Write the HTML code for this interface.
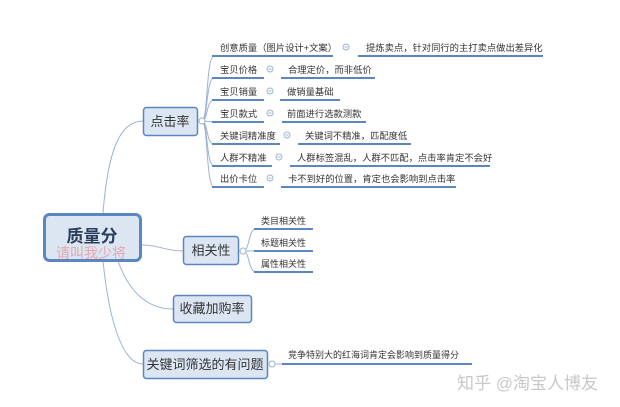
<!DOCTYPE html>
<html><head><meta charset="utf-8"><style>
html,body{margin:0;padding:0;background:#fff;}
svg{display:block;font-family:"Liberation Sans","Noto Sans CJK SC",sans-serif;}
</style></head><body>
<svg width="620" height="407" viewBox="0 0 620 407" xmlns="http://www.w3.org/2000/svg">
<g fill="none" stroke="#9db3cf" stroke-width="1">
<path d="M103 213 C108 150,120 121,143 121"/>
<path d="M141 245 C160 245,165 251,183 251"/>
<path d="M118 261 C130 295,150 309,173 309"/>
<path d="M103 261 C110 330,125 364,143 364"/>
<path d="M202 121 C208 121,206 56,214 56"/>
<path d="M202 121 C208 121,206 78,214 78"/>
<path d="M202 121 C208 121,206 100,214 100"/>
<path d="M202 121 C208 121,208 122,214 122"/>
<path d="M202 121 C208 121,206 144,214 144"/>
<path d="M202 121 C208 121,206 166,214 166"/>
<path d="M202 121 C208 121,206 187,214 187"/>
<path d="M243 251 C250 251,248 229,256 229"/>
<path d="M243 251 L256 251"/>
<path d="M243 251 C250 251,248 272,256 272"/>
<path d="M272 364 L282 364"/>
</g>
<g stroke="#5b86c0" stroke-width="2">
<line x1="212" y1="56" x2="333" y2="56"/><line x1="358" y1="56" x2="543" y2="56"/>
<line x1="212" y1="78" x2="264" y2="78"/><line x1="281" y1="78" x2="375" y2="78"/>
<line x1="212" y1="100" x2="264" y2="100"/><line x1="280" y1="100" x2="340" y2="100"/>
<line x1="212" y1="122" x2="264" y2="122"/><line x1="282" y1="122" x2="366" y2="122"/>
<line x1="212" y1="144" x2="280" y2="144"/><line x1="298" y1="144" x2="411" y2="144"/>
<line x1="212" y1="166" x2="272" y2="166"/><line x1="290" y1="166" x2="490" y2="166"/>
<line x1="212" y1="187" x2="264" y2="187"/><line x1="281" y1="187" x2="456" y2="187"/>
<line x1="254" y1="229" x2="313" y2="229"/>
<line x1="254" y1="251" x2="313" y2="251"/>
<line x1="254" y1="272" x2="313" y2="272"/>
<line x1="282" y1="364" x2="472" y2="364"/>
</g>
<g fill="#fff" stroke="#9db3cf" stroke-width="1">
<circle cx="202" cy="121" r="3"/><circle cx="243" cy="251" r="3"/><circle cx="272" cy="364" r="3"/>
<circle cx="346" cy="47" r="3"/><circle cx="270" cy="69" r="3"/><circle cx="270" cy="91" r="3"/>
<circle cx="270" cy="113" r="3"/><circle cx="287" cy="135" r="3"/><circle cx="279" cy="157" r="3"/>
<circle cx="270" cy="178" r="3"/>
</g>
<g stroke="#9db3cf" stroke-width="1">
<line x1="344.5" y1="47" x2="347.5" y2="47"/><line x1="268.5" y1="69" x2="271.5" y2="69"/>
<line x1="268.5" y1="91" x2="271.5" y2="91"/><line x1="268.5" y1="113" x2="271.5" y2="113"/>
<line x1="285.5" y1="135" x2="288.5" y2="135"/><line x1="277.5" y1="157" x2="280.5" y2="157"/>
<line x1="268.5" y1="178" x2="271.5" y2="178"/>
</g>
<g fill="#dce6f3" stroke="#5b86c0">
<rect x="44.5" y="214.5" width="96" height="46" rx="5" stroke-width="3"/>
<rect x="143.5" y="107.5" width="54" height="28" rx="3" stroke-width="1.5"/>
<rect x="183.5" y="236.5" width="55" height="28" rx="3" stroke-width="1.5"/>
<rect x="173.5" y="295.5" width="78" height="27" rx="3" stroke-width="1.5"/>
<rect x="143.5" y="350.5" width="124" height="28" rx="3" stroke-width="1.5"/>
</g>
<g fill="#333" font-size="9.3">
<text x="220" y="51">创意质量（图片设计+文案）</text><text x="366" y="51">提炼卖点，针对同行的主打卖点做出差异化</text>
<text x="220" y="73">宝贝价格</text><text x="288" y="73">合理定价，而非低价</text>
<text x="220" y="95">宝贝销量</text><text x="287" y="95">做销量基础</text>
<text x="220" y="117">宝贝款式</text><text x="287" y="117">前面进行选款测款</text>
<text x="220" y="139">关键词精准度</text><text x="305" y="139">关键词不精准，匹配度低</text>
<text x="220" y="161">人群不精准</text><text x="297" y="161">人群标签混乱，人群不匹配，点击率肯定不会好</text>
<text x="220" y="182">出价卡位</text><text x="288" y="182">卡不到好的位置，肯定也会影响到点击率</text>
<text x="261" y="224" font-size="9">类目相关性</text>
<text x="261" y="246" font-size="9">标题相关性</text>
<text x="261" y="267" font-size="9">属性相关性</text>
<text x="288" y="358" font-size="9">竞争特别大的红海词肯定会影响到质量得分</text>
</g>
<g fill="#333" font-size="13" text-anchor="middle">
<text x="170" y="126">点击率</text>
<text x="211" y="255">相关性</text>
<text x="212" y="313">收藏加购率</text>
<text x="205" y="369">关键词筛选的有问题</text>
</g>
<text x="92" y="242" text-anchor="middle" font-size="17" font-weight="bold" fill="#2a3d5a">质量分</text>
<text x="91" y="258" text-anchor="middle" font-size="14" fill="#e6a0a8" opacity="0.9">请叫我少将</text>
<text x="457" y="389" font-size="17" fill="#c8c8c8">知乎 @淘宝人博友</text>
</svg>
</body></html>
